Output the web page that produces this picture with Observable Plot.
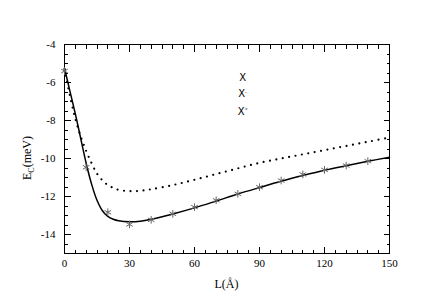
<!DOCTYPE html>
<html><head><meta charset="utf-8">
<script src="https://cdn.jsdelivr.net/npm/d3@7"></script>
<script src="https://cdn.jsdelivr.net/npm/@observablehq/plot@0.6"></script>
<style>body{margin:0;background:#fff}</style>
</head><body><div id="chart"></div>
<script>
const lineL   = [0,2.5,5,7.5,10,12.5,15,17.5,20,22.5,25,30,35,40,50,60,70,80,90,100,110,120,130,140,150];
const solidE  = [-5.25,-6.45,-7.65,-8.95,-10.25,-11.35,-12.2,-12.75,-13.05,-13.2,-13.28,-13.33,-13.3,-13.2,-12.92,-12.6,-12.24,-11.87,-11.53,-11.2,-10.9,-10.62,-10.38,-10.15,-9.93];
const dottedE = [-5.3,-6.7,-7.9,-8.85,-9.6,-10.25,-10.8,-11.15,-11.4,-11.55,-11.65,-11.72,-11.7,-11.62,-11.4,-11.12,-10.82,-10.52,-10.23,-10.0,-9.78,-9.56,-9.34,-9.12,-8.9];
const starL   = [0,10,20,30,40,50,60,70,80,90,100,110,120,130,140];
const starE   = [-5.4,-10.46,-12.83,-13.47,-13.23,-12.91,-12.56,-12.2,-11.86,-11.51,-11.16,-10.84,-10.6,-10.37,-10.14];
const xMajor  = [0,30,60,90,120,150];
const yMajor  = [-4,-6,-8,-10,-12,-14];
const xMinor  = [5,10,15,20,25,35,40,45,50,55,65,70,75,80,85,95,100,105,110,115,125,130,135,140,145];
const yMinor  = [-14.5,-13.5,-13,-12.5,-11.5,-11,-10.5,-9.5,-9,-8.5,-7.5,-7,-6.5,-5.5,-5,-4.5];
const legendBase = ["X","X","X"];
const legendSup  = ["","-","*"];
const legendE    = [-5.74,-6.63,-7.53];
const legendL    = 82.5;
const xLabel = "L(Å)";
const yLabelMain = "E", yLabelSub = "C", yLabelRest = "(meV)";

const xDom = [0,150], yDom = [-15,-4];
const W = 436, H = 304, mL = 64, mR = 47, mT = 44, mB = 51;

const solid  = lineL.map((L,i)=>({L, E: solidE[i]}));
const dotted = lineL.map((L,i)=>({L, E: dottedE[i]}));
const stars  = starL.map((L,i)=>({L, E: starE[i]}));

const tk = {stroke: "#000", strokeWidth: 1, shapeRendering: "crispEdges", tickFormat: () => "", label: null};
const plot = Plot.plot({
  width: W, height: H,
  marginLeft: mL, marginRight: mR, marginTop: mT, marginBottom: mB,
  style: {fontFamily: "Liberation Serif", fontSize: "11px", background: "#fff", color: "#000"},
  x: {domain: xDom},
  y: {domain: yDom},
  marks: [
    Plot.frame({stroke: "#000", fill: "none", strokeWidth: 1}),
    Plot.axisX({...tk, anchor: "bottom", ticks: xMinor, tickSize: -3.5}),
    Plot.axisX({...tk, anchor: "top",    ticks: xMinor, tickSize: -3.5}),
    Plot.axisX({...tk, anchor: "bottom", ticks: xMajor, tickSize: -6.5}),
    Plot.axisX({...tk, anchor: "top",    ticks: xMajor, tickSize: -6.5}),
    Plot.axisY({...tk, anchor: "left",   ticks: yMinor, tickSize: -3.5}),
    Plot.axisY({...tk, anchor: "right",  ticks: yMinor, tickSize: -3.5}),
    Plot.axisY({...tk, anchor: "left",   ticks: yMajor, tickSize: -6.5}),
    Plot.axisY({...tk, anchor: "right",  ticks: yMajor, tickSize: -6.5}),
    Plot.axisX({anchor:"bottom", ticks: xMajor, tickSize: 0, tickPadding: 6, tickFormat: d => String(d), label: null, fontSize: 11}),
    Plot.axisY({anchor:"left", ticks: yMajor, tickSize: 0, tickPadding: 9, tickFormat: d => String(d), label: null, fontSize: 11}),
    Plot.line(dotted, {x:"L", y:"E", curve:"catmull-rom", stroke:"#000", strokeWidth:2.2, strokeDasharray:"0,6.5", strokeLinecap:"round"}),
    Plot.line(solid, {x:"L", y:"E", curve:"catmull-rom", stroke:"#000", strokeWidth:1.5}),
    Plot.dot(stars, {x:"L", y:"E", symbol:"asterisk", r:3.6, stroke:"#666", strokeWidth:1})
  ]
});
document.getElementById("chart").appendChild(plot);

const svg = d3.select(plot);
const xs = plot.scale("x"), ys = plot.scale("y");
legendBase.forEach((b,i) => {
  const t = svg.append("text")
    .attr("x", xs.apply(legendL)).attr("y", ys.apply(legendE[i]))
    .attr("dy", "0.35em")
    .attr("font-family", "DejaVu Sans").attr("font-size", 10).attr("fill","#000");
  t.append("tspan").text(b);
  if (legendSup[i]) t.append("tspan").attr("font-size", 6).attr("dy","-0.5em").attr("fill","#555").text(legendSup[i]);
});
svg.append("text").attr("x", 226.5).attr("y", 284).attr("dy","0.35em")
  .attr("text-anchor","middle").attr("font-family","Liberation Serif").attr("font-size",12).text(xLabel);
const yt = svg.append("text").attr("transform","translate(31,158) rotate(-90)")
  .attr("text-anchor","middle").attr("font-family","Liberation Serif").attr("font-size",12);
yt.append("tspan").text(yLabelMain);
yt.append("tspan").attr("font-size",8).attr("dy","3").text(yLabelSub);
yt.append("tspan").attr("dy","-3").text(yLabelRest);
</script>
</body></html>
